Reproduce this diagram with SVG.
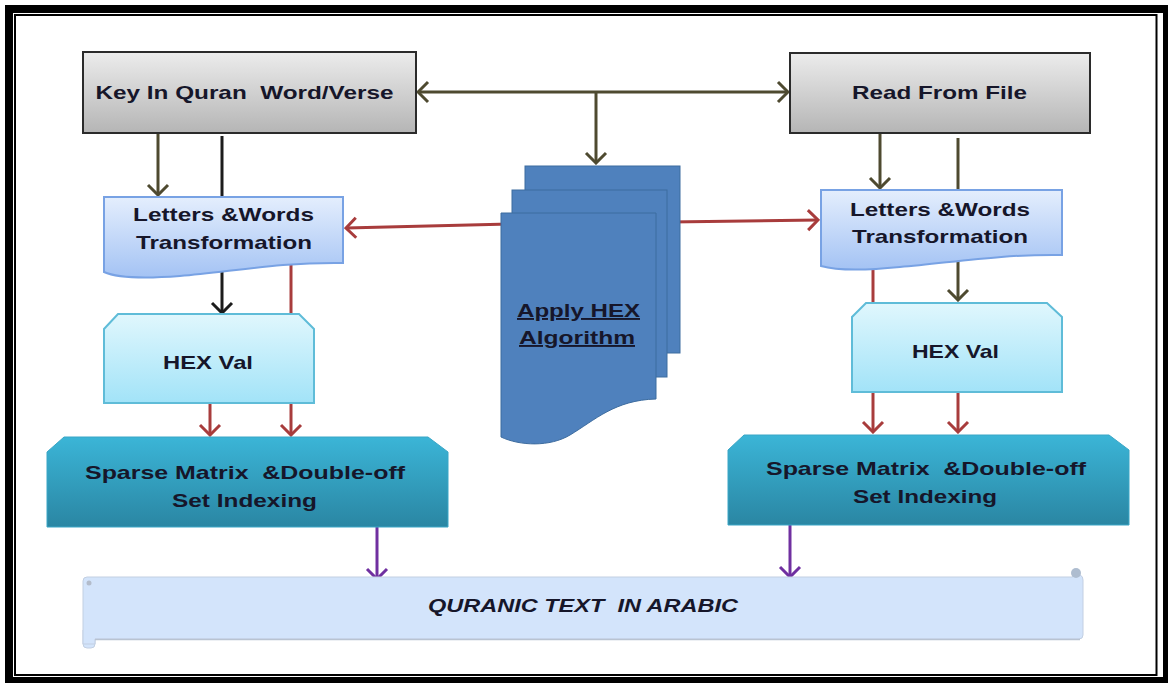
<svg xmlns="http://www.w3.org/2000/svg" width="1168" height="683" viewBox="0 0 1168 683" xml:space="preserve">
<style>
.t{font-family:"Liberation Sans","Open Sans",Arial,sans-serif;font-weight:bold;font-size:19px;fill:#16162a;text-anchor:middle;white-space:pre}
.ol{stroke:#4e4a30;stroke-width:3;fill:none}
.bk{stroke:#1c1c1c;stroke-width:3;fill:none}
.rd{stroke:#a83c3c;stroke-width:3;fill:none}
.pu{stroke:#7030a0;stroke-width:3;fill:none}
</style>
<defs>
<linearGradient id="gGray" x1="0" y1="0" x2="0" y2="1"><stop offset="0" stop-color="#ececec"/><stop offset="1" stop-color="#b5b5b5"/></linearGradient>
<linearGradient id="gBlue" x1="0" y1="0" x2="0" y2="1"><stop offset="0" stop-color="#e4eefd"/><stop offset="1" stop-color="#a4c3f4"/></linearGradient>
<linearGradient id="gCyan" x1="0" y1="0" x2="0" y2="1"><stop offset="0" stop-color="#e0f7fd"/><stop offset="1" stop-color="#a2e3f8"/></linearGradient>
<linearGradient id="gTeal" x1="0" y1="0" x2="0" y2="1"><stop offset="0" stop-color="#3bb5d7"/><stop offset="1" stop-color="#2a86a3"/></linearGradient>
<marker id="aOl" markerUnits="userSpaceOnUse" viewBox="-12 -12 14 24" refX="0" refY="0" markerWidth="14" markerHeight="24" orient="auto-start-reverse"><path d="M-10,-10 L0,0 L-10,10" fill="none" stroke="#4e4a30" stroke-width="3"/></marker>
<marker id="aBk" markerUnits="userSpaceOnUse" viewBox="-12 -12 14 24" refX="0" refY="0" markerWidth="14" markerHeight="24" orient="auto"><path d="M-10,-10 L0,0 L-10,10" fill="none" stroke="#1c1c1c" stroke-width="3"/></marker>
<marker id="aRd" markerUnits="userSpaceOnUse" viewBox="-12 -12 14 24" refX="0" refY="0" markerWidth="14" markerHeight="24" orient="auto"><path d="M-10,-10 L0,0 L-10,10" fill="none" stroke="#a83c3c" stroke-width="3"/></marker>
<marker id="aPu" markerUnits="userSpaceOnUse" viewBox="-12 -12 14 24" refX="0" refY="0" markerWidth="14" markerHeight="24" orient="auto"><path d="M-10,-10 L0,0 L-10,10" fill="none" stroke="#7030a0" stroke-width="3"/></marker>
</defs>
<rect width="1168" height="683" fill="#ffffff"/>
<g id="frame" fill="none" stroke="#000">
<rect x="9" y="9" width="1158" height="672" stroke-width="8"/>
<rect x="15" y="15" width="1141.5" height="660" stroke-width="2"/>
</g>
<g id="connectors">
<line class="ol" x1="418" y1="92" x2="788" y2="92" marker-start="url(#aOl)" marker-end="url(#aOl)"/>
<line class="ol" x1="596" y1="92" x2="596" y2="163" marker-end="url(#aOl)"/>
<line class="ol" x1="158" y1="134" x2="158" y2="195" marker-end="url(#aOl)"/>
<line class="bk" x1="222" y1="136" x2="222" y2="313" marker-end="url(#aBk)"/>
<line class="ol" x1="880" y1="134" x2="880" y2="188" marker-end="url(#aOl)"/>
<line class="ol" x1="958" y1="138" x2="958" y2="300" marker-end="url(#aOl)"/>
<line class="rd" x1="510" y1="224" x2="346" y2="228" marker-end="url(#aRd)"/>
<line class="rd" x1="670" y1="222" x2="818" y2="220" marker-end="url(#aRd)"/>
<line class="rd" x1="291" y1="262" x2="291" y2="435" marker-end="url(#aRd)"/>
<line class="rd" x1="210" y1="403" x2="210" y2="435" marker-end="url(#aRd)"/>
<line class="rd" x1="873" y1="262" x2="873" y2="432" marker-end="url(#aRd)"/>
<line class="rd" x1="958" y1="392" x2="958" y2="432" marker-end="url(#aRd)"/>
<line class="pu" x1="377" y1="522" x2="377" y2="579" marker-end="url(#aPu)"/>
<line class="pu" x1="790" y1="524" x2="790" y2="577" marker-end="url(#aPu)"/>
</g>
<g id="keyIn">
<rect x="83" y="52" width="333" height="81" fill="url(#gGray)" stroke="#2b2b2b" stroke-width="2"/>
<text class="t" x="244.5" y="99" textLength="298" lengthAdjust="spacingAndGlyphs">Key In Quran  Word/Verse</text>
</g>
<g id="readFile">
<rect x="790" y="53" width="300" height="80" fill="url(#gGray)" stroke="#2b2b2b" stroke-width="2"/>
<text class="t" x="939.5" y="99" textLength="175" lengthAdjust="spacingAndGlyphs">Read From File</text>
</g>
<g id="applyHex">
<rect x="525" y="166" width="155" height="187" fill="#4f81bd" stroke="#3d6c9f" stroke-width="1"/>
<rect x="512" y="190" width="155" height="187" fill="#4f81bd" stroke="#3d6c9f" stroke-width="1"/>
<path d="M501 213 H656 V399 C615,400 595,420 570,435 C550,447 520,446 501,437 Z" fill="#4f81bd" stroke="#3d6c9f" stroke-width="1"/>
<text class="t" x="578.5" y="317" textLength="123" lengthAdjust="spacingAndGlyphs" text-decoration="underline">Apply HEX</text>
<text class="t" x="577" y="344" textLength="116" lengthAdjust="spacingAndGlyphs" text-decoration="underline">Algorithm</text>
</g>
<g id="lettersLeft">
<path d="M104 197 H343 V263 C280,262 230,272 180,276 C140,279 115,277 104,272 Z" fill="url(#gBlue)" stroke="#78a2e4" stroke-width="2"/>
<text class="t" x="223.5" y="221" textLength="181" lengthAdjust="spacingAndGlyphs">Letters &amp;Words</text>
<text class="t" x="224" y="249" textLength="176" lengthAdjust="spacingAndGlyphs">Transformation</text>
</g>
<g id="lettersRight">
<path d="M821 190 H1062 V255 C1000,254 950,263 900,267 C860,271 835,270 821,266 Z" fill="url(#gBlue)" stroke="#78a2e4" stroke-width="2"/>
<text class="t" x="940" y="216" textLength="180" lengthAdjust="spacingAndGlyphs">Letters &amp;Words</text>
<text class="t" x="940" y="243" textLength="176" lengthAdjust="spacingAndGlyphs">Transformation</text>
</g>
<g id="hexLeft">
<path d="M118 314 H299 L314 329 V403 H104 V329 Z" fill="url(#gCyan)" stroke="#5fbcd8" stroke-width="2"/>
<text class="t" x="208" y="369" textLength="90" lengthAdjust="spacingAndGlyphs">HEX Val</text>
</g>
<g id="hexRight">
<path d="M866 303 H1047 L1062 317 V392 H852 V317 Z" fill="url(#gCyan)" stroke="#5fbcd8" stroke-width="2"/>
<text class="t" x="955.5" y="358" textLength="87" lengthAdjust="spacingAndGlyphs">HEX Val</text>
</g>
<g id="sparseLeft">
<path d="M64 437 H428 L448 452 V527 H47 V452 Z" fill="url(#gTeal)" stroke="#3aa6c6" stroke-width="1"/>
<text class="t" x="245" y="479" textLength="320" lengthAdjust="spacingAndGlyphs">Sparse Matrix  &amp;Double-off</text>
<text class="t" x="244.5" y="507" textLength="145" lengthAdjust="spacingAndGlyphs">Set Indexing</text>
</g>
<g id="sparseRight">
<path d="M744 435 H1109 L1129 450 V525 H728 V450 Z" fill="url(#gTeal)" stroke="#3aa6c6" stroke-width="1"/>
<text class="t" x="926" y="475" textLength="320" lengthAdjust="spacingAndGlyphs">Sparse Matrix  &amp;Double-off</text>
<text class="t" x="925" y="503" textLength="144" lengthAdjust="spacingAndGlyphs">Set Indexing</text>
</g>
<g id="quranText">
<path d="M83 630 V644 Q83 648 87 648 H91 Q95 648 95 644 V636 Z" fill="#d3e4fb" stroke="#c2cfe2" stroke-width="1"/>
<path d="M87 577 H1072 Q1083 572 1083 580 V635 Q1083 639 1079 639 H95 V644 H83 V581 Q83 577 87 577 Z" fill="#d3e4fb" stroke="#c2cfe2" stroke-width="1"/>
<line x1="95" y1="639.5" x2="1080" y2="639.5" stroke="#b9c3d1" stroke-width="1.5"/>
<circle cx="1076" cy="573" r="5" fill="#aebdd0"/>
<circle cx="89" cy="583" r="2.5" fill="#b3bccb"/>
<text class="t" x="583" y="612" font-style="italic" textLength="310" lengthAdjust="spacingAndGlyphs">QURANIC TEXT  IN ARABIC</text>
</g>
</svg>
